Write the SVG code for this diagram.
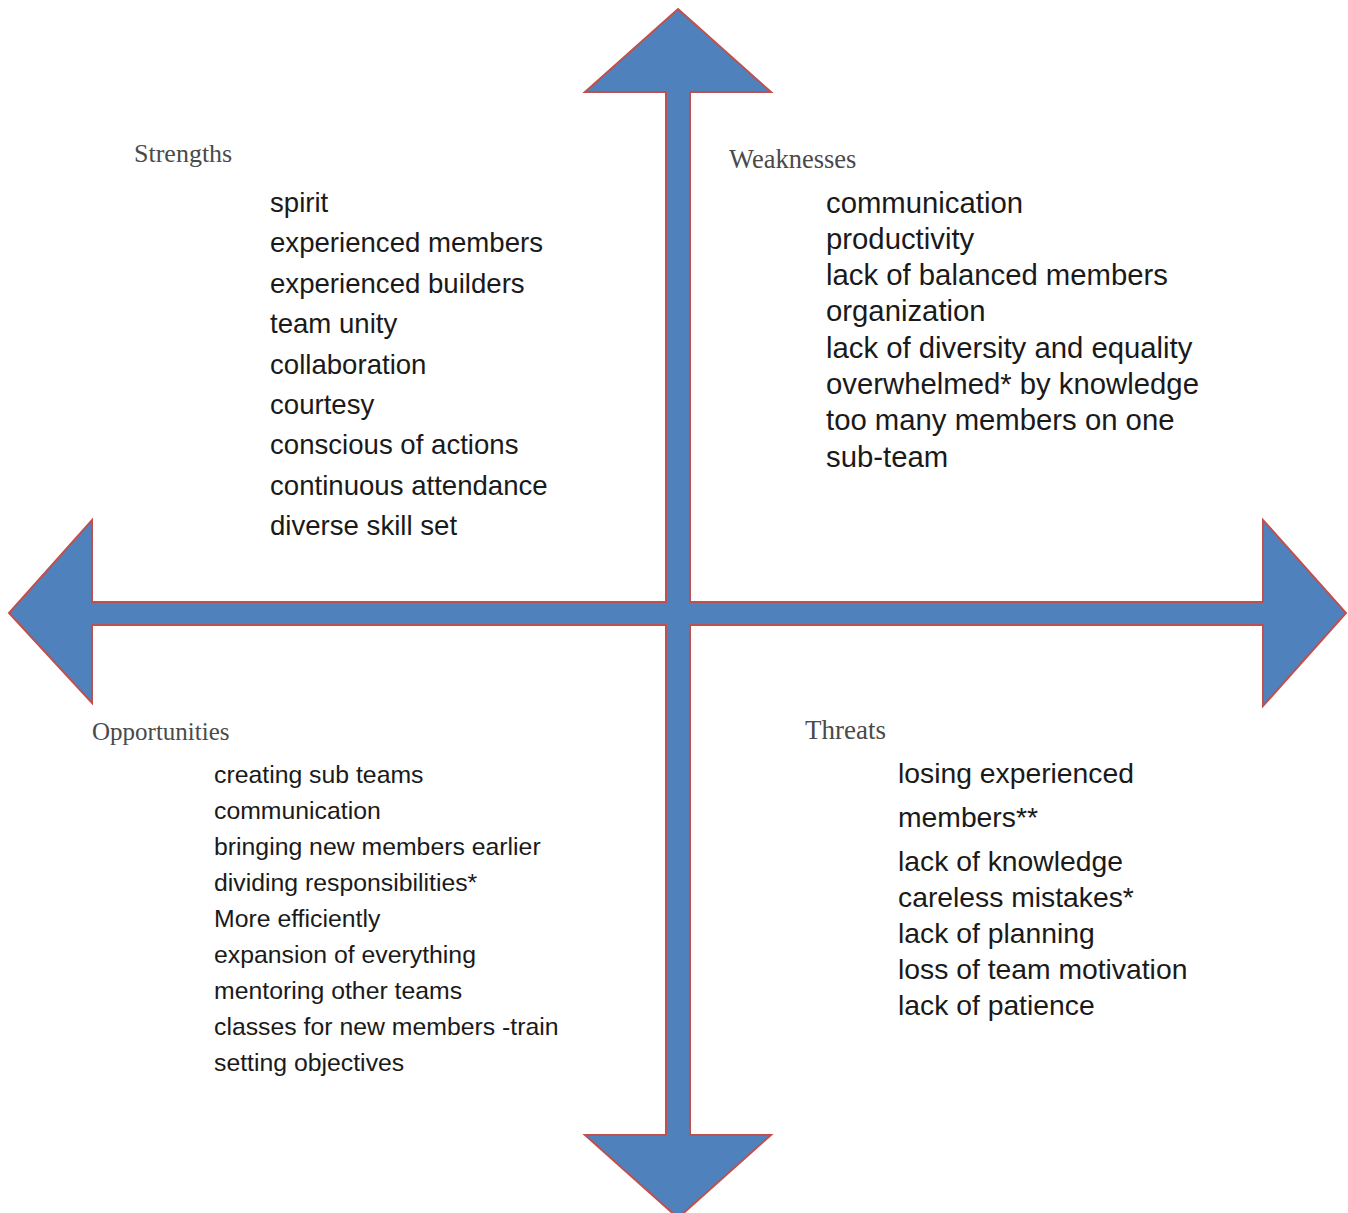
<svg xmlns="http://www.w3.org/2000/svg" width="1348" height="1213" viewBox="0 0 1348 1213">
<style>
.arrow{fill:#4F81BD;stroke:#C0504D;stroke-width:2;stroke-linejoin:miter}
.head{font-family:"Liberation Serif","Times New Roman",serif;font-size:25px;fill:#4a4a4a}
.item{font-family:"Liberation Sans",Arial,sans-serif;fill:#1a1a1a}
.s{font-size:27.6px}
.w{font-size:29.3px}
.o{font-size:24.8px}
.t{font-size:28.3px}
</style>
<rect width="1348" height="1213" fill="#ffffff"/>
<g id="connectors">
<polygon class="arrow" points="678,9 771,92 690,92 690,602 1263,602 1263,520 1346,613 1263,706 1263,625 690,625 690,1135 771,1135 678,1218 585,1135 666,1135 666,625 92,625 92,703 9,613 92,520 92,602 666,602 666,92 585,92"/>
</g>
<g id="strengths">
<text class="head" x="134" y="162" style="font-size:26px">Strengths</text>
<text class="item s" x="270">
<tspan x="270" y="212">spirit</tspan>
<tspan x="270" y="252">experienced members</tspan>
<tspan x="270" y="293">experienced builders</tspan>
<tspan x="270" y="333">team unity</tspan>
<tspan x="270" y="374">collaboration</tspan>
<tspan x="270" y="414">courtesy</tspan>
<tspan x="270" y="454">conscious of actions</tspan>
<tspan x="270" y="495">continuous attendance</tspan>
<tspan x="270" y="535">diverse skill set</tspan>
</text>
</g>
<g id="weaknesses">
<text class="head" x="729" y="168" style="font-size:26.5px">Weaknesses</text>
<text class="item w" x="826">
<tspan x="826" y="213">communication</tspan>
<tspan x="826" y="249">productivity</tspan>
<tspan x="826" y="285">lack of balanced members</tspan>
<tspan x="826" y="321">organization</tspan>
<tspan x="826" y="358">lack of diversity and equality</tspan>
<tspan x="826" y="394">overwhelmed* by knowledge</tspan>
<tspan x="826" y="430">too many members on one</tspan>
<tspan x="826" y="467">sub-team</tspan>
</text>
</g>
<g id="opportunities">
<text class="head" x="92" y="740">Opportunities</text>
<text class="item o" x="214">
<tspan x="214" y="783">creating sub teams</tspan>
<tspan x="214" y="819">communication</tspan>
<tspan x="214" y="855">bringing new members earlier</tspan>
<tspan x="214" y="891">dividing responsibilities*</tspan>
<tspan x="214" y="927">More efficiently</tspan>
<tspan x="214" y="963">expansion of everything</tspan>
<tspan x="214" y="999">mentoring other teams</tspan>
<tspan x="214" y="1035">classes for new members -train</tspan>
<tspan x="214" y="1071">setting objectives</tspan>
</text>
</g>
<g id="threats">
<text class="head" x="805" y="739" style="font-size:27px">Threats</text>
<text class="item t" x="898">
<tspan x="898" y="783">losing experienced</tspan>
<tspan x="898" y="827">members**</tspan>
<tspan x="898" y="871">lack of knowledge</tspan>
<tspan x="898" y="907">careless mistakes*</tspan>
<tspan x="898" y="943">lack of planning</tspan>
<tspan x="898" y="979">loss of team motivation</tspan>
<tspan x="898" y="1015">lack of patience</tspan>
</text>
</g>
</svg>
